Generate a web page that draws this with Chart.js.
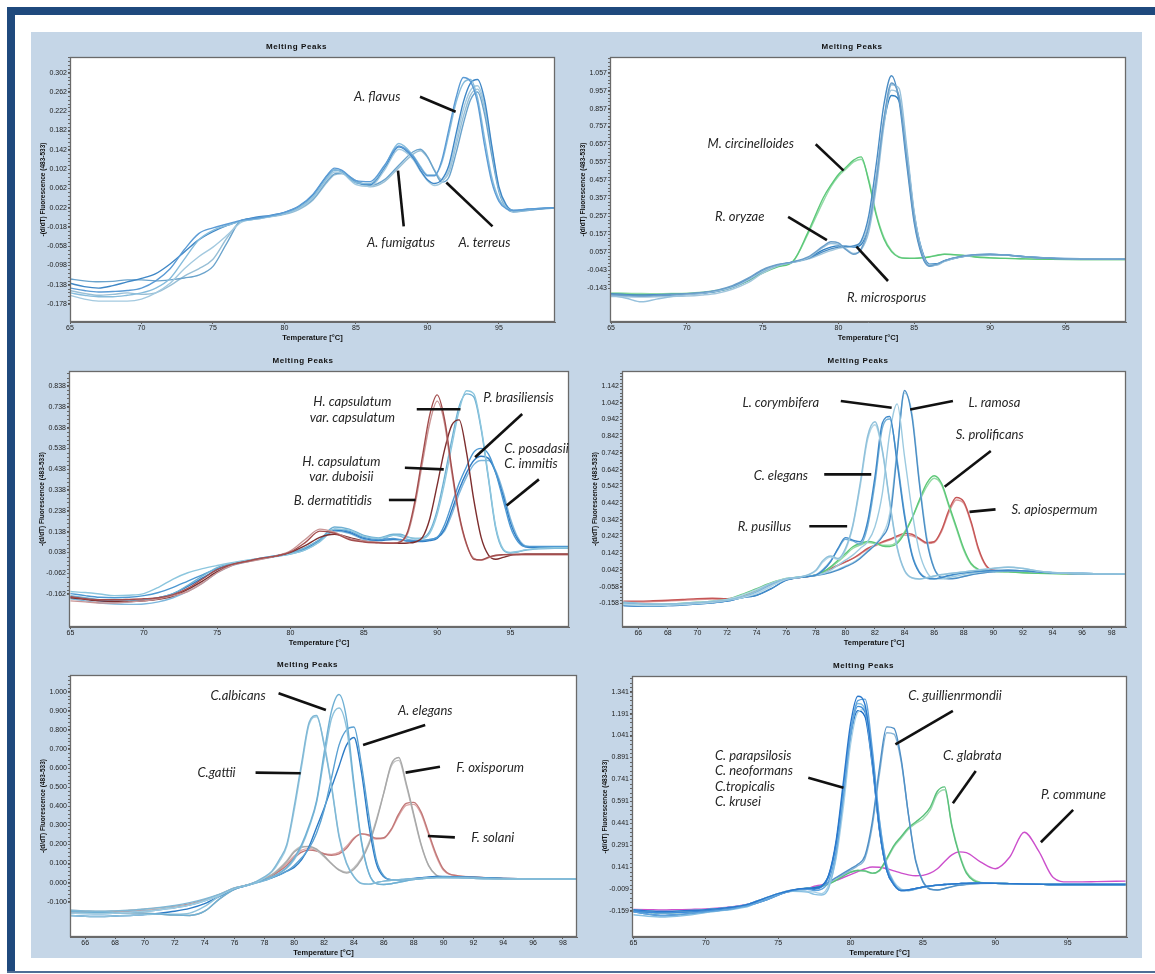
<!DOCTYPE html>
<html>
<head>
<meta charset="utf-8">
<script src="https://cdn.jsdelivr.net/npm/chart.js@4"></script>
<style>
  body { margin: 0; background: #fff; }
  #page { position: relative; width: 1155px; height: 974px; overflow: hidden; background: #fff; }
  .bar { position: absolute; background: #1f497d; }
  #bg { position: absolute; left: 31px; top: 32px; width: 1111px; height: 926px; background: #c5d6e7; }
  canvas { position: absolute; }
</style>
</head>
<body>
<div id="page">
  <div class="bar" style="left:7px;top:7px;width:1148px;height:8px"></div>
  <div class="bar" style="left:7px;top:7px;width:8px;height:966px"></div>
  <div style="position:absolute;left:7px;top:971px;width:1148px;height:2px;background:#4f6e96"></div>
  <div id="bg"></div>
  <canvas id="c1"></canvas>
  <canvas id="c2"></canvas>
  <canvas id="c3"></canvas>
  <canvas id="c4"></canvas>
  <canvas id="c5"></canvas>
  <canvas id="c6"></canvas>
</div>
<script>
// ---------- panel 1: Aspergillus ----------
const p1Temp = [65,66,67,68,69,70,71,72,73,74,75,76,77,78,79,80,81,82,83,83.5,84,85,86,87,88,89,89.5,90,90.5,91,91.5,92,92.5,93,93.5,94,94.5,95,95.5,96,97,98,99]
const p1FlavusA = [-0.145,-0.150,-0.153,-0.152,-0.150,-0.145,-0.130,-0.105,-0.065,-0.032,-0.020,-0.012,-0.004, 0.000,0.005,0.012,0.025,0.050,0.090,0.104,0.100,0.078,0.076, 0.110,0.150,0.128,0.105,0.088,0.088,0.120,0.185,0.250,0.292,0.284,0.240,0.150,0.075,0.035,0.020,0.016, 0.019,0.021,0.022]
const p1FlavusB = [-0.155,-0.160,-0.163,-0.163,-0.160,-0.155,-0.145,-0.125,-0.085,-0.045,-0.025,-0.015,-0.006, -0.002,0.004,0.010,0.022,0.045,0.085,0.100,0.097,0.074,0.072, 0.108,0.155,0.130,0.108,0.090,0.090,0.115,0.175,0.240,0.280,0.288,0.250,0.165,0.085,0.040,0.022,0.016, 0.018,0.021,0.022]
const p1FumigA = [-0.135,-0.142,-0.145,-0.140,-0.132,-0.125,-0.115,-0.095,-0.070,-0.045,-0.028,-0.015,-0.005, 0.002,0.006,0.012,0.024,0.048,0.088,0.100,0.097,0.074,0.070, 0.105,0.148,0.125,0.100,0.080,0.072,0.080,0.110,0.175,0.240,0.280,0.288,0.245,0.150,0.065,0.028,0.016, 0.018,0.020,0.022]
const p1FumigB = [-0.160,-0.168,-0.172,-0.172,-0.172,-0.168,-0.155,-0.135,-0.105,-0.080,-0.060,-0.035,-0.008, -0.002,0.003,0.009,0.020,0.042,0.082,0.096,0.094,0.070,0.066, 0.100,0.143,0.122,0.098,0.078,0.068,0.074,0.100,0.160,0.225,0.265,0.275,0.235,0.145,0.060,0.024,0.014, 0.017,0.020,0.021]
const p1TerreusA = [-0.126,-0.130,-0.132,-0.131,-0.128,-0.128,-0.130,-0.128,-0.124,-0.118,-0.100,-0.050,-0.004, 0.000,0.004,0.009,0.020,0.040,0.078,0.092,0.094,0.078,0.068, 0.080,0.110,0.138,0.143,0.128,0.098,0.075,0.085,0.135,0.195,0.245,0.262,0.215,0.130,0.055,0.022,0.013, 0.016,0.019,0.021]
const p1TerreusB = [-0.150,-0.156,-0.160,-0.158,-0.155,-0.158,-0.155,-0.140,-0.120,-0.105,-0.085,-0.040,-0.005, -0.001,0.003,0.008,0.018,0.038,0.075,0.090,0.092,0.076,0.065, 0.076,0.105,0.133,0.140,0.126,0.100,0.080,0.095,0.150,0.210,0.255,0.268,0.228,0.140,0.060,0.025,0.015, 0.017,0.020,0.022]
const p1XTicks = [65,70,75,80,85,90,95]
const p1YTicks = [0.302,0.262,0.222,0.182,0.142,0.102,0.062,0.022,-0.018,-0.058,-0.098,-0.138,-0.178]

// ---------- panel 2: Mucorales ----------
const p2Temp = [65,66,67,68,69,70,71,72,73,74,75,76,77,78,79,79.5,80,80.5,81,81.5,82,82.5,83,83.5,84,84.5,85,85.5,86,86.5,87,88,89,90,91,92,93,94,96,99]
const p2OryzaeA = [-0.180,-0.185,-0.188,-0.185,-0.180,-0.175,-0.168,-0.155,-0.130,-0.090,-0.040,-0.012,0.003, 0.030,0.090,0.115,0.108,0.070,0.045,0.075,0.200,0.460,0.800,1.000,0.920,0.580,0.240,0.050,-0.020,-0.010, 0.010,0.032,0.042,0.045,0.040,0.032,0.026,0.022,0.019,0.018]
const p2OryzaeB = [-0.185,-0.200,-0.220,-0.205,-0.190,-0.180,-0.172,-0.160,-0.140,-0.100,-0.050,-0.015,0.000, 0.025,0.085,0.105,0.100,0.075,0.050,0.070,0.170,0.420,0.760,0.990,0.970,0.650,0.280,0.060,-0.018,-0.015, 0.005,0.030,0.040,0.043,0.040,0.032,0.026,0.022,0.020,0.018]
const p2MicroA = [-0.175,-0.180,-0.182,-0.180,-0.178,-0.176,-0.170,-0.158,-0.135,-0.095,-0.045,-0.015,0.002, 0.022,0.060,0.075,0.085,0.088,0.092,0.120,0.260,0.550,0.880,1.040,0.900,0.550,0.220,0.040,-0.022,-0.012, 0.008,0.030,0.042,0.046,0.042,0.034,0.027,0.022,0.019,0.018]
const p2MicroB = [-0.190,-0.192,-0.193,-0.192,-0.190,-0.188,-0.182,-0.172,-0.150,-0.115,-0.060,-0.020,0.000, 0.018,0.050,0.065,0.078,0.085,0.090,0.110,0.220,0.480,0.800,0.960,0.930,0.620,0.260,0.060,-0.015,-0.012, 0.006,0.028,0.040,0.044,0.041,0.034,0.027,0.022,0.019,0.018]
const p2MicroC = [-0.178,-0.183,-0.186,-0.184,-0.182,-0.178,-0.172,-0.162,-0.140,-0.100,-0.050,-0.016,0.001, 0.024,0.070,0.085,0.092,0.090,0.085,0.100,0.210,0.470,0.780,0.930,0.900,0.620,0.270,0.070,-0.010,-0.008, 0.010,0.030,0.040,0.042,0.040,0.034,0.028,0.024,0.020,0.018]
const p2MucorA = [-0.175,-0.178,-0.180,-0.180,-0.178,-0.175,-0.170,-0.160,-0.140,-0.105,-0.060,-0.025,0.005, 0.170,0.360,0.430,0.490,0.530,0.570,0.588,0.450,0.260,0.130,0.060,0.028,0.022,0.022,0.025,0.030,0.038, 0.045,0.040,0.030,0.025,0.022,0.020,0.018,0.017,0.016,0.016]
const p2MucorB = [-0.170,-0.172,-0.174,-0.175,-0.174,-0.172,-0.166,-0.155,-0.135,-0.100,-0.055,-0.022,0.006, 0.160,0.340,0.420,0.480,0.520,0.560,0.575,0.460,0.270,0.140,0.065,0.030,0.024,0.023,0.026,0.032,0.040, 0.046,0.041,0.032,0.026,0.022,0.020,0.018,0.017,0.016,0.016]
const p2XTicks = [65,70,75,80,85,90,95]
const p2YTicks = [1.057,0.957,0.857,0.757,0.657,0.557,0.457,0.357,0.257,0.157,0.057,-0.043,-0.143]

// ---------- panel 3: dimorphic fungi ----------
const p3Temp = [65,66,67,68,69,70,71,72,73,74,75,76,77,78,79,80,81,82,83,84,85,86,87,87.5,88,88.5,89,89.5,90,90.5,91,91.5,92,92.5,93,93.5,94,94.5,95,95.5,96,97,98,99]
const p3CapA = [-0.175,-0.185,-0.190,-0.190,-0.188,-0.185,-0.180,-0.165,-0.135,-0.090,-0.045,-0.020,-0.005,0.010,0.020,0.040,0.085,0.140,0.130,0.100,0.088,0.084, 0.082,0.088,0.140,0.290,0.500,0.700,0.795,0.680,0.440,0.220,0.080,0.005,0.002,0.015,0.024,0.027,0.028,0.028,0.028,0.028,0.028,0.028]
const p3CapB = [-0.195,-0.200,-0.205,-0.205,-0.200,-0.195,-0.185,-0.170,-0.150,-0.110,-0.060,-0.025,-0.008,0.005,0.020,0.045,0.100,0.150,0.135,0.105,0.092,0.086, 0.084,0.090,0.130,0.270,0.470,0.660,0.765,0.660,0.420,0.210,0.075,0.010,0.000,0.012,0.022,0.026,0.027,0.028,0.028,0.028,0.028,0.028]
const p3Dub = [-0.180,-0.188,-0.195,-0.198,-0.198,-0.195,-0.188,-0.172,-0.140,-0.100,-0.055,-0.022,-0.006,0.008,0.020,0.038,0.070,0.110,0.125,0.110,0.092,0.085, 0.082,0.082,0.083,0.088,0.110,0.200,0.360,0.530,0.650,0.675,0.520,0.290,0.110,0.025,0.005,0.014,0.024,0.028,0.030,0.030,0.030,0.030]
const p3BrasA = [-0.150,-0.155,-0.162,-0.170,-0.168,-0.160,-0.130,-0.090,-0.060,-0.040,-0.025,-0.012,0.000,0.010,0.020,0.030,0.050,0.090,0.150,0.145,0.115,0.105, 0.120,0.120,0.110,0.105,0.105,0.130,0.220,0.370,0.550,0.720,0.815,0.800,0.640,0.400,0.160,0.055,0.038,0.042,0.050,0.058,0.060,0.060]
const p3BrasB = [-0.170,-0.180,-0.190,-0.195,-0.195,-0.190,-0.180,-0.160,-0.120,-0.075,-0.035,-0.015,-0.002,0.010,0.022,0.035,0.060,0.100,0.160,0.150,0.120,0.108, 0.125,0.125,0.112,0.105,0.108,0.140,0.240,0.400,0.580,0.740,0.800,0.785,0.630,0.390,0.150,0.050,0.035,0.040,0.048,0.055,0.058,0.058]
const p3PosA = [-0.160,-0.170,-0.178,-0.180,-0.178,-0.170,-0.155,-0.130,-0.100,-0.070,-0.040,-0.018,-0.004,0.010,0.022,0.035,0.060,0.100,0.150,0.140,0.110,0.100, 0.105,0.100,0.095,0.095,0.095,0.100,0.110,0.170,0.270,0.370,0.450,0.520,0.538,0.510,0.420,0.290,0.160,0.090,0.066,0.066,0.067,0.067]
const p3PosB = [-0.175,-0.185,-0.195,-0.200,-0.198,-0.192,-0.180,-0.160,-0.125,-0.085,-0.045,-0.020,-0.005,0.008,0.020,0.032,0.055,0.095,0.145,0.135,0.105,0.095, 0.100,0.098,0.092,0.090,0.090,0.095,0.105,0.150,0.240,0.340,0.420,0.480,0.500,0.490,0.420,0.310,0.180,0.100,0.065,0.060,0.060,0.060]
const p3PosC = [-0.185,-0.195,-0.205,-0.210,-0.212,-0.210,-0.200,-0.180,-0.150,-0.110,-0.060,-0.025,-0.008,0.006,0.018,0.030,0.050,0.090,0.140,0.130,0.100,0.095, 0.120,0.115,0.100,0.095,0.095,0.100,0.110,0.140,0.220,0.320,0.400,0.460,0.480,0.480,0.430,0.330,0.200,0.110,0.070,0.062,0.063,0.063]
const p3XTicks = [65,70,75,80,85,90,95]
const p3YTicks = [0.838,0.738,0.638,0.538,0.438,0.338,0.238,0.138,0.038,-0.062,-0.162]

// ---------- panel 4: Mucorales / Scedosporium ----------
const p4Temp = [65,66,67,68,69,70,71,72,73,74,75,76,77,78,78.5,79,79.5,80,80.5,81,81.5,82,82.5,83,83.5,84,84.5,85,85.5,86,86.5,87,87.5,88,88.5,89,89.5,90,91,92,93,94,96,99]
const p4PusA = [-0.150,-0.158,-0.162,-0.163,-0.160,-0.155,-0.148,-0.140,-0.120,-0.085,-0.040,-0.012,0.000, 0.040,0.100,0.125,0.110,0.170,0.310,0.560,0.840,0.928,0.760,0.450,0.180,0.040,-0.005,-0.012,-0.005,0.005,0.014,0.020,0.025,0.030,0.035,0.040,0.045,0.050, 0.058,0.050,0.035,0.026,0.020,0.018]
const p4PusB = [-0.165,-0.170,-0.172,-0.170,-0.165,-0.160,-0.152,-0.140,-0.125,-0.100,-0.055,-0.015,0.000, 0.035,0.090,0.118,0.105,0.160,0.300,0.540,0.820,0.910,0.750,0.440,0.170,0.035,-0.008,-0.014,-0.006,0.004,0.012,0.018,0.024,0.030,0.036,0.042,0.048,0.052, 0.060,0.052,0.036,0.026,0.020,0.018]
const p4ElegA = [-0.172,-0.175,-0.175,-0.172,-0.168,-0.162,-0.155,-0.145,-0.125,-0.110,-0.070,-0.020,-0.002, 0.010,0.040,0.090,0.170,0.235,0.220,0.210,0.330,0.600,0.920,0.960,0.680,0.360,0.130,0.025,-0.008,-0.012,-0.004,0.008,0.018,0.025,0.030,0.034,0.036,0.038, 0.040,0.036,0.030,0.025,0.020,0.018]
const p4ElegB = [-0.155,-0.160,-0.163,-0.163,-0.160,-0.156,-0.150,-0.142,-0.122,-0.090,-0.045,-0.014,0.000, 0.012,0.045,0.095,0.165,0.225,0.215,0.195,0.300,0.560,0.890,0.945,0.700,0.380,0.140,0.030,-0.006,-0.011,-0.004,0.007,0.016,0.023,0.028,0.032,0.035,0.037, 0.040,0.036,0.030,0.025,0.020,0.018]
const p4Cory = [-0.165,-0.170,-0.172,-0.170,-0.165,-0.160,-0.152,-0.140,-0.125,-0.100,-0.055,-0.015,0.000, 0.010,0.020,0.040,0.070,0.100,0.130,0.170,0.210,0.300,0.500,0.860,1.035,0.720,0.400,0.150,0.030,-0.010,-0.012,-0.004,0.005,0.015,0.022,0.028,0.032,0.035, 0.038,0.035,0.030,0.025,0.020,0.018]
const p4RamA = [-0.172,-0.175,-0.175,-0.172,-0.168,-0.162,-0.155,-0.145,-0.125,-0.110,-0.070,-0.020,-0.002, 0.008,0.015,0.025,0.040,0.060,0.080,0.110,0.150,0.190,0.240,0.340,0.740,1.115,0.960,0.560,0.220,0.050,-0.005,-0.012,-0.008,0.002,0.012,0.020,0.026,0.030, 0.035,0.035,0.030,0.025,0.020,0.018]
const p4RamB = [-0.158,-0.162,-0.165,-0.163,-0.158,-0.152,-0.145,-0.135,-0.110,-0.075,-0.038,-0.010,0.001, 0.010,0.018,0.030,0.045,0.065,0.085,0.115,0.155,0.195,0.250,0.380,0.760,1.100,0.980,0.580,0.240,0.055,-0.002,-0.010,-0.006,0.004,0.014,0.022,0.028,0.032, 0.036,0.035,0.030,0.025,0.020,0.018]
const p4ProlA = [-0.158,-0.162,-0.165,-0.163,-0.158,-0.152,-0.145,-0.135,-0.105,-0.070,-0.035,-0.010,0.000, 0.010,0.030,0.060,0.100,0.140,0.180,0.200,0.212,0.205,0.185,0.182,0.200,0.260,0.350,0.460,0.560,0.605,0.560,0.430,0.300,0.170,0.080,0.045,0.035,0.033, 0.030,0.025,0.022,0.020,0.018,0.018]
const p4ProlB = [-0.165,-0.170,-0.172,-0.170,-0.165,-0.160,-0.152,-0.140,-0.112,-0.078,-0.040,-0.012,0.000, 0.012,0.028,0.055,0.090,0.130,0.170,0.190,0.205,0.200,0.190,0.190,0.210,0.270,0.350,0.450,0.540,0.590,0.550,0.420,0.290,0.160,0.075,0.042,0.034,0.032, 0.030,0.025,0.022,0.020,0.018,0.018]
const p4ApioA = [-0.145,-0.145,-0.143,-0.140,-0.135,-0.130,-0.128,-0.130,-0.115,-0.080,-0.040,-0.015,-0.002, 0.010,0.030,0.050,0.070,0.090,0.110,0.140,0.170,0.190,0.210,0.225,0.245,0.260,0.255,0.230,0.205,0.210,0.280,0.400,0.475,0.450,0.330,0.170,0.070,0.040, 0.035,0.030,0.025,0.022,0.018,0.018]
const p4ApioB = [-0.150,-0.150,-0.148,-0.145,-0.140,-0.135,-0.133,-0.134,-0.120,-0.085,-0.044,-0.017,-0.003, 0.012,0.028,0.048,0.068,0.088,0.110,0.135,0.165,0.185,0.205,0.220,0.240,0.250,0.245,0.225,0.200,0.205,0.270,0.385,0.460,0.440,0.320,0.160,0.065,0.038, 0.034,0.030,0.025,0.022,0.018,0.018]
const p4XTicks = [66,68,70,72,74,76,78,80,82,84,86,88,90,92,94,96,98]
const p4YTicks = [1.142,1.042,0.942,0.842,0.742,0.642,0.542,0.442,0.342,0.242,0.142,0.042,-0.058,-0.158]

// ---------- panel 5: Candida / Fusarium ----------
const p5Temp = [65,66,67,68,69,70,71,72,73,74,75,76,77,78,78.5,79,79.5,80,80.5,81,81.5,82,82.5,83,83.5,84,84.5,85,85.5,86,86.5,87,87.5,88,88.5,89,89.5,90,91,92,93,94,96,99]
const p5GattiiA = [-0.145,-0.148,-0.150,-0.148,-0.145,-0.138,-0.130,-0.120,-0.105,-0.085,-0.060,-0.028,-0.010, 0.030,0.060,0.120,0.200,0.400,0.630,0.840,0.875,0.720,0.500,0.240,0.100,0.030,-0.005,-0.008,0.000,0.008,0.012,0.015,0.018,0.020,0.022,0.025,0.026,0.026, 0.025,0.022,0.020,0.020,0.018,0.018]
const p5GattiiB = [-0.160,-0.162,-0.163,-0.160,-0.155,-0.150,-0.142,-0.132,-0.118,-0.095,-0.065,-0.030,-0.010, 0.025,0.055,0.110,0.190,0.380,0.610,0.830,0.868,0.730,0.510,0.250,0.105,0.032,-0.004,-0.008,0.000,0.008,0.012,0.015,0.018,0.020,0.022,0.025,0.026,0.026, 0.025,0.022,0.020,0.020,0.018,0.018]
const p5AlbA = [-0.150,-0.155,-0.158,-0.158,-0.158,-0.160,-0.165,-0.170,-0.172,-0.150,-0.085,-0.035,-0.010, 0.015,0.030,0.050,0.080,0.130,0.200,0.300,0.430,0.680,0.900,0.985,0.860,0.520,0.220,0.050,-0.005,-0.010,-0.006,0.002,0.010,0.016,0.020,0.024,0.026,0.027, 0.026,0.023,0.021,0.020,0.018,0.018]
const p5AlbB = [-0.172,-0.176,-0.178,-0.175,-0.172,-0.168,-0.165,-0.165,-0.160,-0.125,-0.070,-0.032,-0.012, 0.012,0.028,0.048,0.075,0.120,0.190,0.290,0.420,0.650,0.860,0.915,0.810,0.500,0.210,0.048,-0.005,-0.010,-0.006,0.002,0.010,0.016,0.020,0.024,0.026,0.027, 0.026,0.023,0.021,0.020,0.018,0.018]
const p5ElegA = [-0.160,-0.162,-0.163,-0.160,-0.155,-0.150,-0.142,-0.132,-0.118,-0.095,-0.065,-0.030,-0.010, 0.010,0.025,0.040,0.060,0.090,0.130,0.180,0.260,0.380,0.550,0.720,0.800,0.815,0.620,0.350,0.120,0.035,0.015,0.012,0.014,0.018,0.022,0.025,0.028,0.030, 0.030,0.028,0.025,0.022,0.020,0.020]
const p5ElegB = [-0.172,-0.176,-0.178,-0.175,-0.172,-0.168,-0.160,-0.150,-0.135,-0.110,-0.072,-0.034,-0.012, 0.015,0.025,0.040,0.060,0.080,0.120,0.190,0.290,0.390,0.500,0.610,0.720,0.760,0.580,0.300,0.100,0.030,0.015,0.015,0.018,0.022,0.026,0.030,0.032,0.032, 0.030,0.028,0.025,0.022,0.020,0.020]
const p5OxyA = [-0.150,-0.155,-0.158,-0.158,-0.158,-0.160,-0.165,-0.170,-0.172,-0.150,-0.085,-0.035,-0.010, 0.020,0.040,0.070,0.110,0.160,0.185,0.190,0.175,0.140,0.100,0.065,0.050,0.070,0.120,0.200,0.320,0.470,0.620,0.655,0.520,0.360,0.200,0.090,0.040,0.030, 0.028,0.025,0.022,0.020,0.018,0.018]
const p5OxyB = [-0.145,-0.148,-0.150,-0.148,-0.145,-0.140,-0.135,-0.128,-0.115,-0.092,-0.062,-0.028,-0.010, 0.022,0.042,0.075,0.115,0.165,0.190,0.188,0.170,0.135,0.098,0.068,0.055,0.078,0.130,0.210,0.330,0.470,0.610,0.640,0.510,0.350,0.195,0.088,0.040,0.030, 0.028,0.025,0.022,0.020,0.018,0.018]
const p5SolA = [-0.150,-0.152,-0.153,-0.150,-0.146,-0.140,-0.133,-0.125,-0.112,-0.090,-0.062,-0.028,-0.010, 0.020,0.035,0.060,0.090,0.130,0.160,0.170,0.165,0.150,0.143,0.150,0.180,0.230,0.255,0.250,0.232,0.235,0.280,0.360,0.415,0.420,0.370,0.260,0.150,0.070, 0.035,0.030,0.025,0.022,0.020,0.020]
const p5SolB = [-0.155,-0.157,-0.158,-0.155,-0.150,-0.145,-0.138,-0.128,-0.115,-0.092,-0.064,-0.030,-0.010, 0.022,0.040,0.065,0.100,0.140,0.170,0.178,0.168,0.152,0.148,0.158,0.190,0.235,0.255,0.245,0.228,0.232,0.275,0.350,0.405,0.410,0.360,0.250,0.140,0.065, 0.035,0.030,0.025,0.022,0.020,0.020]
const p5XTicks = [66,68,70,72,74,76,78,80,82,84,86,88,90,92,94,96,98]
const p5YTicks = [1.000,0.900,0.800,0.700,0.600,0.500,0.400,0.300,0.200,0.100,0.000,-0.100]

// ---------- panel 6: yeasts ----------
const p6Temp = [65,66,67,68,69,70,71,72,73,74,75,76,77,77.5,78,78.5,79,79.5,80,80.5,81,81.5,82,82.5,83,83.5,84,84.5,85,85.5,86,86.5,87,87.5,88,89,90,91,92,93,94,95,96,97,99]
const p6Cand1 = [-0.150,-0.158,-0.162,-0.160,-0.156,-0.150,-0.142,-0.130,-0.110,-0.075,-0.040,-0.015,-0.005, -0.005,0.010,0.090,0.320,0.720,1.120,1.310,1.250,0.880,0.400,0.120,0.020,-0.020,-0.015,-0.005,0.005,0.012,0.018,0.022,0.026,0.028,0.030, 0.032,0.030,0.028,0.026,0.024,0.022,0.022,0.022,0.022,0.022]
const p6Cand2 = [-0.165,-0.180,-0.190,-0.185,-0.175,-0.165,-0.155,-0.140,-0.120,-0.090,-0.050,-0.020,-0.010, -0.020,-0.010,0.050,0.250,0.620,1.050,1.280,1.290,0.950,0.460,0.150,0.030,-0.015,-0.020,-0.008,0.004,0.012,0.018,0.022,0.026,0.028,0.030, 0.032,0.030,0.028,0.026,0.024,0.022,0.022,0.022,0.022,0.022]
const p6Cand3 = [-0.185,-0.195,-0.200,-0.195,-0.185,-0.170,-0.158,-0.145,-0.125,-0.080,-0.045,-0.025,-0.030, -0.045,-0.050,0.000,0.220,0.620,1.050,1.260,1.220,0.860,0.400,0.120,0.020,-0.020,-0.020,-0.008,0.004,0.012,0.018,0.022,0.026,0.028,0.030, 0.032,0.030,0.028,0.026,0.024,0.022,0.022,0.022,0.022,0.022]
const p6Cand4 = [-0.160,-0.168,-0.172,-0.170,-0.165,-0.158,-0.150,-0.138,-0.115,-0.085,-0.045,-0.018,-0.003, -0.010,0.005,0.080,0.300,0.680,1.060,1.240,1.200,0.860,0.400,0.130,0.025,-0.018,-0.018,-0.006,0.004,0.012,0.018,0.022,0.026,0.028,0.030, 0.032,0.030,0.028,0.026,0.024,0.022,0.022,0.022,0.022,0.022]
const p6Cand5 = [-0.150,-0.158,-0.162,-0.160,-0.156,-0.150,-0.142,-0.130,-0.110,-0.075,-0.040,-0.015,-0.025, -0.030,-0.040,0.020,0.200,0.550,0.980,1.200,1.220,0.920,0.460,0.160,0.040,-0.010,-0.020,-0.010,0.002,0.010,0.016,0.020,0.024,0.027,0.028, 0.030,0.030,0.028,0.026,0.024,0.022,0.022,0.022,0.022,0.022]
const p6Cand6 = [-0.165,-0.180,-0.190,-0.185,-0.175,-0.165,-0.155,-0.140,-0.120,-0.090,-0.050,-0.020,-0.010, 0.000,0.012,0.085,0.300,0.660,1.030,1.210,1.170,0.840,0.390,0.120,0.020,-0.020,-0.015,-0.005,0.005,0.012,0.018,0.022,0.026,0.028,0.030, 0.032,0.030,0.028,0.026,0.024,0.022,0.022,0.022,0.022,0.022]
const p6GuilA = [-0.150,-0.158,-0.162,-0.160,-0.156,-0.150,-0.142,-0.130,-0.110,-0.075,-0.040,-0.015,-0.005, 0.000,0.015,0.040,0.070,0.100,0.130,0.160,0.220,0.450,0.820,1.100,1.090,0.880,0.500,0.180,0.040,-0.010,-0.015,-0.005,0.008,0.018,0.024, 0.030,0.030,0.028,0.026,0.024,0.022,0.022,0.022,0.022,0.022]
const p6GuilB = [-0.160,-0.168,-0.172,-0.170,-0.165,-0.158,-0.150,-0.138,-0.115,-0.085,-0.045,-0.018,-0.003, 0.000,0.012,0.035,0.065,0.090,0.120,0.150,0.200,0.420,0.780,1.060,1.050,0.860,0.500,0.190,0.045,-0.008,-0.015,-0.006,0.006,0.016,0.022, 0.028,0.030,0.028,0.026,0.024,0.022,0.022,0.022,0.022,0.022]
const p6GlabA = [-0.160,-0.168,-0.172,-0.170,-0.165,-0.158,-0.150,-0.138,-0.115,-0.085,-0.045,-0.018,-0.003, 0.000,0.010,0.025,0.050,0.080,0.105,0.118,0.115,0.100,0.120,0.200,0.290,0.350,0.410,0.450,0.490,0.550,0.660,0.690,0.420,0.230,0.100, 0.035,0.030,0.028,0.026,0.024,0.022,0.022,0.022,0.022,0.022]
const p6GlabB = [-0.155,-0.162,-0.166,-0.165,-0.160,-0.154,-0.146,-0.134,-0.112,-0.082,-0.043,-0.017,-0.003, 0.000,0.012,0.028,0.055,0.085,0.110,0.120,0.112,0.098,0.115,0.190,0.280,0.340,0.400,0.440,0.470,0.530,0.640,0.670,0.430,0.240,0.110, 0.036,0.030,0.028,0.026,0.024,0.022,0.022,0.022,0.022,0.022]
const p6Commune = [-0.148,-0.150,-0.152,-0.150,-0.148,-0.145,-0.138,-0.128,-0.110,-0.080,-0.045,-0.020,-0.005, 0.010,0.020,0.035,0.050,0.070,0.090,0.110,0.130,0.142,0.140,0.130,0.115,0.100,0.088,0.082,0.085,0.100,0.130,0.180,0.225,0.245,0.240, 0.175,0.130,0.210,0.380,0.250,0.070,0.040,0.040,0.042,0.045]
const p6XTicks = [65,70,75,80,85,90,95]
const p6YTicks = [1.341,1.191,1.041,0.891,0.741,0.591,0.441,0.291,0.141,-0.009,-0.159]

// species labels and leader lines, in data coordinates of each panel
const p1Notes = [
  { text: "A. flavus", x: 84.86, y: 0.252 },
  { text: "A. fumigatus", x: 85.77, y: -0.051 },
  { text: "A. terreus", x: 92.17, y: -0.051 },
]
const p1Leaders = [[89.48, 0.252, 91.97, 0.221], [88.34, -0.017, 87.94, 0.099], [94.55, -0.017, 91.32, 0.074]]

const p2Notes = [
  { text: "M. circinelloides", x: 71.37, y: 0.658 },
  { text: "R. oryzae", x: 71.86, y: 0.254 },
  { text: "R. microsporus", x: 80.57, y: -0.197 },
]
const p2Leaders = [[78.5, 0.658, 80.34, 0.511], [76.68, 0.254, 79.24, 0.124], [83.27, -0.104, 81.19, 0.087]]

const p3Notes = [
  { text: "H. capsulatum", x: 84.22, y: 0.760, align: "center" },
  { text: "var. capsulatum", x: 84.22, y: 0.686, align: "center" },
  { text: "H. capsulatum", x: 83.47, y: 0.474, align: "center" },
  { text: "var. duboisii", x: 83.47, y: 0.402, align: "center" },
  { text: "B. dermatitidis", x: 80.22, y: 0.285 },
  { text: "P. brasiliensis", x: 93.15, y: 0.779 },
  { text: "C. posadasii", x: 94.58, y: 0.538 },
  { text: "C. immitis", x: 94.58, y: 0.466 },
]
const p3Leaders = [[88.61, 0.726, 91.59, 0.726], [87.8, 0.445, 90.45, 0.437], [86.71, 0.29, 88.53, 0.29], [95.8, 0.703, 92.59, 0.495], [96.94, 0.389, 94.74, 0.263]]

const p4Notes = [
  { text: "L. corymbifera", x: 73.05, y: 1.044 },
  { text: "L. ramosa", x: 88.32, y: 1.044 },
  { text: "S. prolificans", x: 87.46, y: 0.849 },
  { text: "C. elegans", x: 73.8, y: 0.603 },
  { text: "S. apiospermum", x: 91.23, y: 0.404 },
  { text: "R. pusillus", x: 72.72, y: 0.299 },
]
const p4Leaders = [[79.69, 1.052, 83.13, 1.012], [87.27, 1.052, 84.38, 1.002], [89.83, 0.753, 86.71, 0.539], [78.57, 0.613, 81.75, 0.613], [90.15, 0.404, 88.39, 0.389], [77.56, 0.303, 80.12, 0.303]]

const p5Notes = [
  { text: "C.albicans", x: 74.39, y: 0.977 },
  { text: "A. elegans", x: 86.95, y: 0.899 },
  { text: "C.gattii", x: 73.52, y: 0.576 },
  { text: "F. oxisporum", x: 90.86, y: 0.599 },
  { text: "F. solani", x: 91.85, y: 0.235 },
]
const p5Leaders = [[78.95, 0.992, 82.12, 0.904], [88.77, 0.826, 84.61, 0.721], [77.41, 0.576, 80.43, 0.573], [89.76, 0.607, 87.46, 0.576], [90.76, 0.237, 88.95, 0.244]]

const p6Notes = [
  { text: "C. guillienrmondii", x: 83.99, y: 1.312 },
  { text: "C. parapsilosis", x: 70.63, y: 0.901 },
  { text: "C. neoformans", x: 70.63, y: 0.799 },
  { text: "C.tropicalis", x: 70.63, y: 0.691 },
  { text: "C. krusei", x: 70.63, y: 0.589 },
  { text: "C. glabrata", x: 86.38, y: 0.901 },
  { text: "P. commune", x: 93.15, y: 0.634 },
]
const p6Leaders = [[87.07, 1.209, 83.1, 0.981], [77.08, 0.753, 79.51, 0.684], [88.65, 0.799, 87.07, 0.578], [95.38, 0.532, 93.15, 0.311]]

const panels = [
  { id: "c1", box: [70, 57, 555, 322], xRange: [65, 98.92], yRange: [-0.2154, 0.3346], temps: p1Temp,
    xTicks: p1XTicks, yTicks: p1YTicks, notes: p1Notes, leaders: p1Leaders,
    series: [
      { values: p1FlavusA, color: "#5b9bd5" }, { values: p1FlavusB, color: "#86bcdc" },
      { values: p1FumigA, color: "#3f87c6" }, { values: p1FumigB, color: "#a3c9df" },
      { values: p1TerreusA, color: "#6aa3cc" }, { values: p1TerreusB, color: "#98bfd6" },
    ] },
  { id: "c2", box: [610, 57, 1126, 322], xRange: [64.93, 98.97], yRange: [-0.3325, 1.1445], temps: p2Temp,
    xTicks: p2XTicks, yTicks: p2YTicks, notes: p2Notes, leaders: p2Leaders,
    series: [
      { values: p2OryzaeA, color: "#6a9ec9" }, { values: p2OryzaeB, color: "#97c1dc" },
      { values: p2MicroA, color: "#4a8cc4" }, { values: p2MicroB, color: "#a2c6dc" },
      { values: p2MicroC, color: "#2f7fc0" },
      { values: p2MucorA, color: "#5cc878" }, { values: p2MucorB, color: "#93dba6" },
    ] },
  { id: "c3", box: [69, 371, 569, 627], xRange: [64.9, 98.99], yRange: [-0.3207, 0.910], temps: p3Temp,
    xTicks: p3XTicks, yTicks: p3YTicks, notes: p3Notes, leaders: p3Leaders,
    series: [
      { values: p3CapA, color: "#a34d4d" }, { values: p3CapB, color: "#c99595" },
      { values: p3Dub, color: "#7d2e2e" },
      { values: p3BrasA, color: "#8cc6de" }, { values: p3BrasB, color: "#6fb0d3" },
      { values: p3PosA, color: "#4d98d2" }, { values: p3PosB, color: "#2f7cc4" }, { values: p3PosC, color: "#7db6dc" },
    ] },
  { id: "c4", box: [622, 371, 1126, 627], xRange: [64.9, 98.97], yRange: [-0.2999, 1.2318], temps: p4Temp,
    xTicks: p4XTicks, yTicks: p4YTicks, notes: p4Notes, leaders: p4Leaders,
    series: [
      { values: p4PusA, color: "#8fc1db" }, { values: p4PusB, color: "#b2d5e6" },
      { values: p4ElegA, color: "#3f89c9" }, { values: p4ElegB, color: "#74b0d8" },
      { values: p4Cory, color: "#9ccae0" },
      { values: p4RamA, color: "#4b8ec6" }, { values: p4RamB, color: "#aed3e5" },
      { values: p4ProlA, color: "#5ec878" }, { values: p4ProlB, color: "#95dba6" },
      { values: p4ApioA, color: "#c65656" }, { values: p4ApioB, color: "#dc9a9a" },
    ] },
  { id: "c5", box: [70, 675, 577, 937], xRange: [64.98, 98.94], yRange: [-0.285, 1.0875], temps: p5Temp,
    xTicks: p5XTicks, yTicks: p5YTicks, notes: p5Notes, leaders: p5Leaders,
    series: [
      { values: p5GattiiA, color: "#7fb8d6" }, { values: p5GattiiB, color: "#a2cce0" },
      { values: p5AlbA, color: "#6fb0d4" }, { values: p5AlbB, color: "#8ec2dc" },
      { values: p5ElegA, color: "#5aa0d2" }, { values: p5ElegB, color: "#2c7bc6" },
      { values: p5OxyA, color: "#a8a8a8" }, { values: p5OxyB, color: "#c2c2c2" },
      { values: p5SolA, color: "#c27878" }, { values: p5SolB, color: "#dba6a6" },
    ] },
  { id: "c6", box: [632, 676, 1127, 937], xRange: [64.9, 99.1], yRange: [-0.3368, 1.448], temps: p6Temp,
    xTicks: p6XTicks, yTicks: p6YTicks, notes: p6Notes, leaders: p6Leaders,
    series: [
      { values: p6Cand1, color: "#2a78cc" }, { values: p6Cand2, color: "#5fa3dc" },
      { values: p6Cand3, color: "#86bfe2" }, { values: p6Cand4, color: "#3b8bd8" },
      { values: p6Cand5, color: "#a6cfe6" }, { values: p6Cand6, color: "#1d6cc4" },
      { values: p6GuilA, color: "#4f8fc6" }, { values: p6GuilB, color: "#86b4d6" },
      { values: p6GlabA, color: "#58c07a" }, { values: p6GlabB, color: "#9ad9ac" },
      { values: p6Commune, color: "#cc4fcc" },
    ] },
]

const sans = '"Liberation Sans", Arial, sans-serif'

// frame, titles, minor ticks and species labels for one panel
function decor(p) {
  return {
    id: "decor_" + p.id,
    beforeDraw(chart) {
      const { ctx, chartArea: a } = chart
      ctx.save()
      ctx.fillStyle = "#ffffff"
      ctx.fillRect(a.left, a.top, a.right - a.left, a.bottom - a.top)
      ctx.restore()
    },
    afterDraw(chart) {
      const { ctx, chartArea: a, scales } = chart
      const xs = scales.x, ys = scales.y
      ctx.save()

      // plot frame
      ctx.strokeStyle = "#6a6a6a"
      ctx.lineWidth = 1.3
      ctx.strokeRect(a.left + 0.5, a.top + 0.5, a.right - a.left - 1, a.bottom - a.top - 1)

      // minor ticks on the y axis
      const step = (p.yTicks[0] - p.yTicks[1]) / 5
      ctx.strokeStyle = "#666"
      ctx.lineWidth = 1
      ctx.beginPath()
      for (let v = p.yTicks[p.yTicks.length - 1]; v < ys.max; v += step) {
        const py = Math.round(ys.getPixelForValue(v)) + 0.5
        ctx.moveTo(a.left - 2, py); ctx.lineTo(a.left, py)
      }
      ctx.stroke()

      // titles
      ctx.fillStyle = "#111"
      ctx.textAlign = "center"
      ctx.textBaseline = "middle"
      ctx.font = "bold 8px " + sans
      ctx.letterSpacing = "0.6px"
      ctx.fillText("Melting Peaks", (a.left + a.right) / 2 - 16, a.top - 10)
      ctx.letterSpacing = "0px"
      ctx.font = "bold 7.5px " + sans
      ctx.fillText("Temperature [°C]", (a.left + a.right) / 2, a.bottom + 15.5)
      ctx.save()
      ctx.translate(a.left - 27, (a.top + a.bottom) / 2)
      ctx.rotate(-Math.PI / 2)
      ctx.font = "bold 6.5px " + sans
      ctx.fillText("-(d/dT) Fluorescence (483-533)", 0, 0)
      ctx.restore()

      // leader lines
      ctx.strokeStyle = "#111"
      ctx.lineWidth = 2.6
      p.leaders.forEach(([x1, y1, x2, y2]) => {
        ctx.beginPath()
        ctx.moveTo(xs.getPixelForValue(x1), ys.getPixelForValue(y1))
        ctx.lineTo(xs.getPixelForValue(x2), ys.getPixelForValue(y2))
        ctx.stroke()
      })

      // species labels
      ctx.fillStyle = "#262626"
      ctx.font = 'italic 13px Lato, "Open Sans", sans-serif'
      p.notes.forEach((n) => {
        ctx.textAlign = n.align || "left"
        ctx.fillText(n.text, xs.getPixelForValue(n.x), ys.getPixelForValue(n.y))
      })
      ctx.restore()
    },
  }
}

function buildPanel(p) {
  const [L, T, R, B] = p.box
  const cv = document.getElementById(p.id)
  cv.width = R - L + 60
  cv.height = B - T + 58
  cv.style.left = L - 52 + "px"
  cv.style.top = T - 24 + "px"

  const tickFont = { family: sans, size: 7 }
  new Chart(cv, {
    type: "line",
    data: {
      datasets: p.series.map((s) => ({
        data: p.temps.map((t, i) => ({ x: t, y: s.values[i] })),
        borderColor: s.color,
        borderWidth: 1.4,
        pointRadius: 0,
        fill: false,
        cubicInterpolationMode: "monotone",
      })),
    },
    options: {
      responsive: false,
      animation: false,
      events: [],
      layout: { padding: { top: 24, right: 8, left: 0, bottom: 0 } },
      plugins: { legend: { display: false }, tooltip: { enabled: false }, title: { display: false } },
      scales: {
        x: {
          type: "linear",
          min: p.xRange[0],
          max: p.xRange[1],
          afterBuildTicks: (s) => { s.ticks = p.xTicks.map((v) => ({ value: v })) },
          afterFit: (s) => { s.height = 34 },
          ticks: { font: tickFont, color: "#222", padding: 0, maxRotation: 0, autoSkip: false, callback: (v) => String(v) },
          grid: { drawOnChartArea: false, tickLength: 2, color: "#555" },
          border: { color: "#6a6a6a" },
        },
        y: {
          type: "linear",
          min: p.yRange[0],
          max: p.yRange[1],
          afterBuildTicks: (s) => { s.ticks = p.yTicks.map((v) => ({ value: v })) },
          afterFit: (s) => { s.width = 52 },
          ticks: { font: tickFont, color: "#222", padding: 1, autoSkip: false, callback: (v) => v.toFixed(3) },
          grid: { drawOnChartArea: false, tickLength: 2, color: "#555" },
          border: { color: "#6a6a6a" },
        },
      },
    },
    plugins: [decor(p)],
  })
}

panels.forEach(buildPanel)
</script>
</body>
</html>
